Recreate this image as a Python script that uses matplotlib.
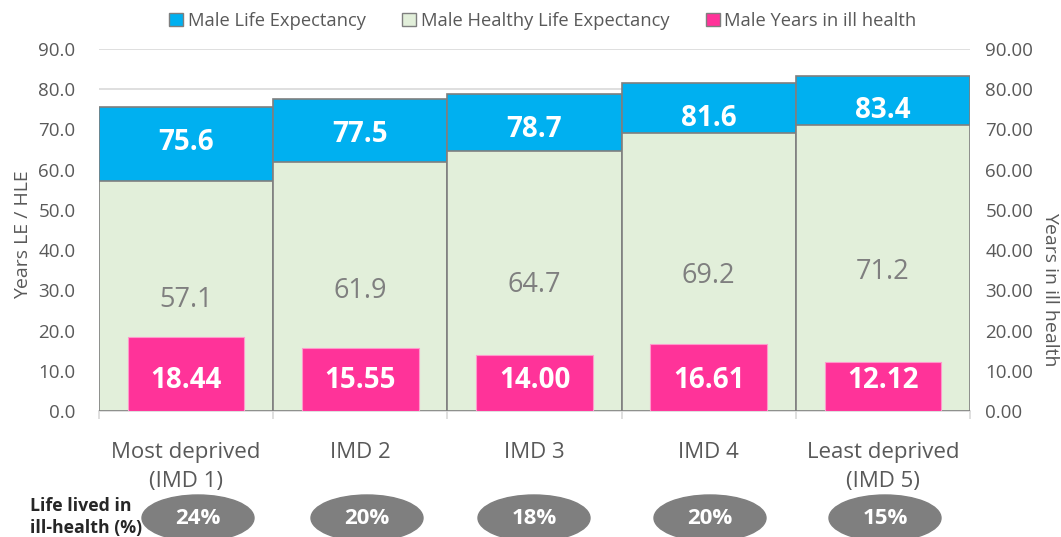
"""
Male life expectancy, healthy life expectancy and years in ill health by IMD quintile
"""
import matplotlib
matplotlib.use('Agg')
import matplotlib.pyplot as plt
from matplotlib.patches import Ellipse, Patch

plt.rcParams['font.family'] = ['Open Sans', 'DejaVu Sans']

# Data
categories = ['Most deprived\n(IMD 1)', 'IMD 2', 'IMD 3', 'IMD 4', 'Least deprived\n(IMD 5)']
le  = [75.6, 77.5, 78.7, 81.6, 83.4]
hle = [57.1, 61.9, 64.7, 69.2, 71.2]
ill = [18.44, 15.55, 14.00, 16.61, 12.12]
pct = ['24%', '20%', '18%', '20%', '15%']
pct_x = [198, 367, 534, 710, 885]   # ellipse centres (pixels)

blue  = '#00b0f0'
green = '#e2efda'
pink  = '#ff3399'
grey  = '#595959'

fig = plt.figure(figsize=(10.61, 5.37), dpi=100)
ax = fig.add_axes([99/1061, 1-411/537, 871/1061, 362/537])
ax2 = ax.twinx()

x = range(len(categories))
ax.set_axisbelow(True)
ax.yaxis.grid(True, color='#d9d9d9', linewidth=1.2)
ax.bar(x, le, width=1.0, color=blue, edgecolor='#7f7f7f', linewidth=1.2, zorder=2)
ax.bar(x, hle, width=1.0, color=green, edgecolor='#7f7f7f', linewidth=1.2, zorder=3)
ax2.bar(x, ill, width=0.67, color=pink, edgecolor='#ff99cc', linewidth=0.8, zorder=3)

for i in x:
    ax.text(i, le[i] - 8.8, f'{le[i]:.1f}', ha='center', va='center',
            color='white', fontsize=20, fontweight='bold', zorder=5)
    ax.text(i, hle[i]/2 - 1.0, f'{hle[i]:.1f}', ha='center', va='center',
            color='#7f7f7f', fontsize=19.5, zorder=5)
    ax2.text(i, 7.6, f'{ill[i]:.2f}', ha='center', va='center',
             color='white', fontsize=20, fontweight='bold', zorder=5)

ax.set_xlim(-0.5, 4.5)
ax.set_ylim(0, 90)
ax2.set_ylim(0, 90)
ax.set_yticks(range(0, 91, 10))
ax2.set_yticks(range(0, 91, 10))
ax.set_yticklabels([f'{v:.1f}' for v in range(0, 91, 10)])
ax2.set_yticklabels([f'{v:.2f}' for v in range(0, 91, 10)])

ax.set_xticks(list(x))
ax.set_xticklabels(categories, linespacing=1.55)
ax.set_xticks([i + 0.5 for i in range(-1, 5)], minor=True)
ax.tick_params(axis='x', which='major', length=0, pad=22, labelsize=16, labelcolor=grey)
ax.tick_params(axis='x', which='minor', length=6, color='#d9d9d9', width=1.2)
ax.tick_params(axis='y', length=0, labelsize=13.5, labelcolor=grey, pad=17)
ax2.tick_params(axis='y', length=0, labelsize=13.5, labelcolor=grey, pad=11)

for a in (ax, ax2):
    for s in ['top', 'left', 'right']:
        a.spines[s].set_visible(False)
ax.spines['bottom'].set_color('#d9d9d9')
ax.spines['bottom'].set_linewidth(1.2)
ax2.spines['bottom'].set_visible(False)

ax.set_ylabel('Years LE / HLE', fontsize=14, color=grey, va='center')
ax.yaxis.set_label_coords(-0.087, 0.486)
ax2.set_ylabel('Years in ill health', fontsize=14, color=grey, rotation=270, va='center')
ax2.yaxis.set_label_coords(1.092, 0.335)

handles = [Patch(facecolor=blue, edgecolor='#7f7f7f'),
           Patch(facecolor=green, edgecolor='#7f7f7f'),
           Patch(facecolor=pink, edgecolor='#7f7f7f')]
fig.legend(handles, ['Male Life Expectancy', 'Male Healthy Life Expectancy', 'Male Years in ill health'],
           loc='center', bbox_to_anchor=(543/1061, 1-21/537), ncol=3, frameon=False,
           fontsize=13.2, labelcolor=grey, handlelength=0.75, handleheight=0.75,
           handletextpad=0.25, columnspacing=2.0)

# ill-health share ellipses
for px, p in zip(pct_x, pct):
    fig.patches.append(Ellipse((px/1061, 1-518/537), 112/1061, 46/537,
                               transform=fig.transFigure, color='#7f7f7f'))
    fig.text(px/1061, 1-519/537, p, ha='center', va='center', color='white',
             fontsize=16, fontweight='bold')
fig.text(30/1061, 1-517/537, 'Life lived in\nill-health (%)', ha='left', va='center',
         color='#262626', fontsize=12.8, fontweight='bold', linespacing=1.35)

plt.savefig('out.png', dpi=100)
